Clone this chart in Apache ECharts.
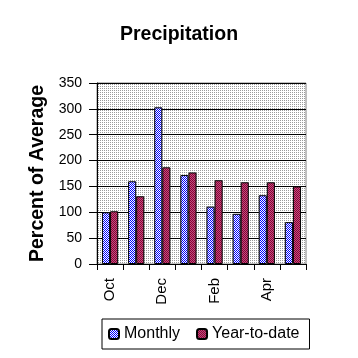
<!DOCTYPE html>
<html><head><meta charset="utf-8">
<script src="https://cdn.jsdelivr.net/npm/echarts@6/dist/echarts.min.js"></script>
<style>html,body{margin:0;padding:0;background:#fff}#c{width:358px;height:358px}</style>
</head><body><div id="c"></div>
<script>
var categories = ['Oct','Nov','Dec','Jan','Feb','Mar','Apr','May'];
var monthly = [100, 160, 303, 172, 111, 97, 133, 81];
var yearToDate = [102, 131, 187, 177, 162, 158, 158, 150];
var yTicks = {min: 0, max: 350, interval: 50};

function pattern(a, b, mode) {
  var c = document.createElement('canvas');
  c.width = 2; c.height = 2;
  var g = c.getContext('2d');
  g.fillStyle = b; g.fillRect(0,0,2,2);
  g.fillStyle = a;
  if (mode === 'dot') { g.fillRect(0,0,1,1); }
  else { g.fillRect(0,0,1,1); g.fillRect(1,1,1,1); }
  return {image: c, repeat: 'repeat'};
}
var bgPat = pattern('#9a9a9a', '#ffffff', 'dot');
var bluePat = pattern('#0000ff', '#ffffff', 'check');
var redPat = pattern('#8a0033', '#c05080', 'check');

var font = 'Liberation Sans';
var chart = echarts.init(document.getElementById('c'), null, {renderer: 'canvas'});
chart.setOption({
  animation: false,
  textStyle: {fontFamily: font, color: '#000'},
  title: {text: 'Precipitation', left: 'center', top: 20,
    textStyle: {fontFamily: font, fontSize: 19.5, fontWeight: 'bold', color: '#000'}},
  grid: {left: 97, right: 52, top: 83, bottom: 94, show: true,
    borderColor: '#808080', borderWidth: 1, backgroundColor: bgPat},
  legend: {top: 319, left: 102, itemWidth: 10, itemHeight: 10, itemGap: 16,
    padding: [7, 10, 7, 6], borderColor: '#000', borderWidth: 1,
    textStyle: {fontFamily: font, fontSize: 16, color: '#000'},
    data: ['Monthly', 'Year-to-date']},
  xAxis: {type: 'category', data: categories,
    axisLine: {lineStyle: {color: '#000', width: 1}},
    axisTick: {show: true, interval: 0, length: 6, lineStyle: {color: '#000'}},
    axisLabel: {interval: 1, rotate: 90, fontSize: 15, color: '#000', margin: 14, fontFamily: font}},
  yAxis: {type: 'value', min: yTicks.min, max: yTicks.max, interval: yTicks.interval,
    name: 'Percent of Average', nameLocation: 'middle', nameGap: 48,
    nameTextStyle: {fontFamily: font, fontSize: 19.5, fontWeight: 'bold', color: '#000'},
    axisLine: {show: true, lineStyle: {color: '#000'}},
    axisTick: {show: true, length: 8, lineStyle: {color: '#000'}},
    axisLabel: {fontSize: 14, color: '#000', margin: 15, fontFamily: font},
    splitLine: {show: true, lineStyle: {color: '#000', width: 1}}},
  series: [
    {name: 'Monthly', type: 'bar', data: monthly, barGap: '0%', barCategoryGap: '38%',
      itemStyle: {color: bluePat, borderColor: '#000', borderWidth: 1}},
    {name: 'Year-to-date', type: 'bar', data: yearToDate, barGap: '0%', barCategoryGap: '38%',
      itemStyle: {color: redPat, borderColor: '#000', borderWidth: 1}}
  ]
});
</script></body></html>
